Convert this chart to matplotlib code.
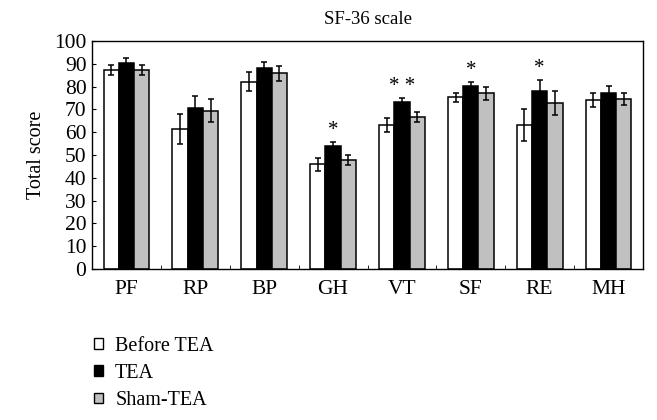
import matplotlib.pyplot as plt
import numpy as np
from matplotlib.patches import Patch

plt.rcParams['font.family'] = ['Liberation Serif', 'DejaVu Serif']

categories = ['PF', 'RP', 'BP', 'GH', 'VT', 'SF', 'RE', 'MH']
series = ['Before TEA', 'TEA', 'Sham-TEA']

before = [87.3, 61.3, 82.2, 45.9, 63.2, 75.3, 63.2, 74.0]
tea = [90.2, 70.5, 88.0, 53.9, 73.1, 80.4, 78.1, 77.3]
sham = [87.3, 69.4, 85.8, 47.8, 66.5, 77.0, 72.9, 74.4]

before_err = [2.2, 6.6, 4.0, 2.9, 2.9, 2.0, 7.0, 3.0]
tea_err = [2.2, 5.5, 3.0, 1.8, 2.0, 1.7, 4.8, 3.0]
sham_err = [2.2, 5.0, 3.2, 2.2, 2.2, 2.7, 5.3, 2.6]

# significance marks above the TEA bar
stars = {'GH': '*', 'VT': '* *', 'SF': '*', 'RE': '*'}

colors = ['white', 'black', '#c0c0c0']

fig = plt.figure(figsize=(6.57, 4.2), dpi=100)
ax = fig.add_axes([92/657, 1 - 269/420, 551/657, 228/420])

x = np.arange(len(categories))
w = 0.222
for i, (vals, errs) in enumerate([(before, before_err), (tea, tea_err), (sham, sham_err)]):
    ax.bar(x + (i - 1) * w, vals, w, color=colors[i], edgecolor='black', linewidth=1.1,
           yerr=errs, capsize=2.5, error_kw=dict(elinewidth=1.1, capthick=1.1, ecolor='black'),
           label=series[i])

for cat, s in stars.items():
    k = categories.index(cat)
    ax.text(x[k], tea[k] + tea_err[k] + 0.8, s, ha='center', va='bottom', fontsize=15)

ax.set_xlim(-0.5, len(categories) - 0.5)
ax.set_ylim(0, 100)
ax.set_yticks(np.arange(0, 101, 10))
ax.tick_params(axis='y', direction='in', length=3, labelsize=15.5, pad=4)
ax.set_xticks(x)
ax.set_xticklabels(categories, fontsize=15.5)
ax.tick_params(axis='x', length=0, pad=8)
ax.set_xticks(np.arange(0.5, len(categories) - 0.5, 1), minor=True)
ax.tick_params(axis='x', which='minor', direction='in', length=3)
for sp in ax.spines.values():
    sp.set_linewidth(1.0)

ax.set_ylabel('Total score', fontsize=14.5, labelpad=6)
ax.set_title('SF-36 scale', fontsize=13.5, pad=12)

handles = [Patch(facecolor=c, edgecolor='black', linewidth=1.0) for c in colors]
fig.legend(handles, series, loc='upper left', bbox_to_anchor=(94/657, 1 - 337/420),
           frameon=False, fontsize=14.5, handlelength=0.45, handleheight=0.45,
           handletextpad=0.6, labelspacing=0.4, borderpad=0, borderaxespad=0)

fig.savefig('out.png', dpi=100)
